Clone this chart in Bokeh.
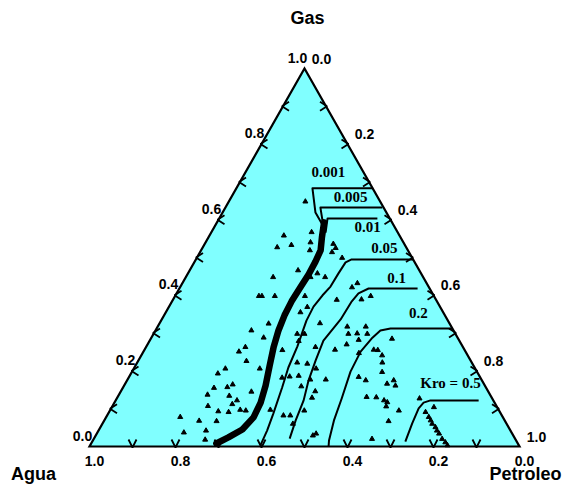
from bokeh.plotting import figure
from bokeh.models import Range1d
from bokeh.core.properties import value
from bokeh.embed import file_html
from bokeh.resources import INLINE

# ---- data (ternary saturations: So = oil, Sg = gas, Sw = 1 - So - Sg) ----
# thick boundary curve
thick_so = [0.249, 0.264, 0.278, 0.281, 0.282, 0.280, 0.278, 0.280, 0.286,
            0.297, 0.312, 0.329, 0.340, 0.343, 0.333, 0.311, 0.291]
thick_sg = [0.593, 0.553, 0.519, 0.489, 0.455, 0.421, 0.384, 0.347, 0.307,
            0.262, 0.214, 0.161, 0.116, 0.077, 0.045, 0.024, 0.008]

# Kro iso-lines
k0001_so = [0.318, 0.177, 0.216, 0.248]
k0001_sg = [0.683, 0.683, 0.619, 0.587]
k0005_so = [0.365, 0.221, 0.246]
k0005_sg = [0.632, 0.632, 0.593]
k001_so = [0.368, 0.252, 0.266]
k001_sg = [0.603, 0.603, 0.566]
k005_so = [0.505, 0.362, 0.352, 0.350, 0.349, 0.342, 0.336, 0.338, 0.351,
           0.358, 0.370, 0.384, 0.392, 0.396]
k005_sg = [0.495, 0.495, 0.487, 0.458, 0.423, 0.400, 0.370, 0.333, 0.265,
           0.209, 0.156, 0.087, 0.042, 0.003]
k01_so = [0.554, 0.440, 0.423, 0.418, 0.416, 0.404, 0.412, 0.422, 0.437, 0.445, 0.455]
k01_sg = [0.418, 0.418, 0.405, 0.384, 0.336, 0.280, 0.228, 0.175, 0.122, 0.069, 0.021]
k02_so = [0.688, 0.544, 0.523, 0.514, 0.505, 0.508, 0.523, 0.534, 0.549, 0.556]
k02_sg = [0.312, 0.312, 0.307, 0.288, 0.251, 0.198, 0.127, 0.069, 0.016, 0.000]
k05_so = [0.844, 0.732, 0.719, 0.715, 0.720, 0.728]
k05_sg = [0.122, 0.122, 0.116, 0.101, 0.061, 0.013]

contour_labels = ["0.001", "0.005", "0.01", "0.05", "0.1", "0.2", "Kro = 0.5"]
label_so = [0.193, 0.277, 0.356, 0.424, 0.491, 0.589, 0.756]
label_sg = [0.725, 0.661, 0.582, 0.524, 0.447, 0.352, 0.167]

# measured points
pts_so = [0.178, 0.173, 0.173, 0.203, 0.244, 0.233, 0.253, 0.299, 0.310, 0.307,
          0.338, 0.252, 0.203, 0.301, 0.324, 0.290, 0.195, 0.202, 0.232, 0.302,
          0.381, 0.407, 0.400, 0.455, 0.438, 0.313, 0.322, 0.373, 0.351, 0.347,
          0.254, 0.223, 0.261, 0.231, 0.222, 0.394, 0.321, 0.372, 0.397, 0.424,
          0.373, 0.357, 0.393, 0.425, 0.413, 0.452, 0.453, 0.452, 0.410, 0.426,
          0.443, 0.505, 0.510, 0.372, 0.334, 0.441, 0.453, 0.473, 0.484, 0.485,
          0.463, 0.443, 0.503, 0.461, 0.534, 0.555, 0.579, 0.647, 0.533, 0.543,
          0.497, 0.560, 0.582, 0.609, 0.620, 0.631, 0.602, 0.624, 0.634, 0.637,
          0.672, 0.662, 0.561, 0.704, 0.749, 0.736, 0.750, 0.759, 0.767, 0.779,
          0.787, 0.796, 0.810, 0.822, 0.831, 0.252, 0.213, 0.202, 0.293, 0.212,
          0.242, 0.251, 0.258, 0.282, 0.276, 0.206, 0.222, 0.253, 0.302, 0.316,
          0.304, 0.172, 0.221, 0.262, 0.201, 0.250, 0.260, 0.278, 0.570]
pts_sg = [0.648, 0.558, 0.527, 0.533, 0.540, 0.567, 0.519, 0.536, 0.525, 0.514,
          0.499, 0.466, 0.448, 0.458, 0.448, 0.448, 0.398, 0.398, 0.398, 0.398,
          0.388, 0.432, 0.421, 0.398, 0.389, 0.355, 0.369, 0.326, 0.298, 0.279,
          0.325, 0.307, 0.288, 0.263, 0.251, 0.263, 0.255, 0.222, 0.219, 0.206,
          0.185, 0.182, 0.187, 0.177, 0.159, 0.146, 0.129, 0.095, 0.082, 0.082,
          0.060, 0.029, 0.034, 0.097, 0.298, 0.317, 0.298, 0.299, 0.317, 0.282,
          0.270, 0.256, 0.247, 0.177, 0.184, 0.175, 0.131, 0.020, 0.256, 0.255,
          0.298, 0.241, 0.197, 0.166, 0.175, 0.161, 0.130, 0.122, 0.117, 0.106,
          0.095, 0.067, 0.285, 0.127, 0.104, 0.091, 0.078, 0.069, 0.060, 0.051,
          0.042, 0.034, 0.020, 0.011, 0.003, 0.226, 0.206, 0.193, 0.206, 0.155,
          0.157, 0.164, 0.134, 0.122, 0.112, 0.137, 0.107, 0.093, 0.097, 0.095,
          0.145, 0.078, 0.068, 0.067, 0.037, 0.042, 0.018, 0.091, 0.222]

edge_ticks = [0.1, 0.2, 0.3, 0.4, 0.5, 0.6, 0.7, 0.8, 0.9]
label_vals = [0.0, 0.2, 0.4, 0.6, 0.8, 1.0]
label_txt = ["0.0", "0.2", "0.4", "0.6", "0.8", "1.0"]


# ---- helpers ----
def tx(so, sg):
    return [o + g / 2.0 for o, g in zip(so, sg)]


def ty(so, sg):
    return list(sg)


PXX = 430.0   # screen px per unit x
PXY = 378.0   # screen px per unit y

p = figure(width=565, height=488, output_backend="svg", toolbar_location=None,
           x_range=Range1d(-89 / PXX, 476 / PXX), y_range=Range1d(-42 / PXY, 446 / PXY),
           min_border=0)
p.axis.visible = False
p.grid.visible = False
p.outline_line_color = None
p.background_fill_color = "white"

# triangle
p.patch([0.0, 1.0, 0.5], [0.0, 0.0, 1.0], fill_color="#80ffff",
        line_color="black", line_width=2.2, line_join="miter")

# edge ticks (chevrons)
kx, ky = 1 / PXX, 1 / PXY
xs, ys = [], []
for t in edge_ticks:
    x0, y0 = t / 2, t                    # left edge (Sg = t)
    xs.append([x0 + 6 * kx, x0 - 1 * kx, x0 + 6 * kx]); ys.append([y0 + 4.5 * ky, y0, y0 - 4.5 * ky])
    x0, y0 = 1 - t, 0.0                  # bottom edge (Sw = t)
    xs.append([x0 - 4 * kx, x0, x0 + 4 * kx]); ys.append([y0 + 7 * ky, y0 - 1 * ky, y0 + 7 * ky])
    x0, y0 = (1 + t) / 2, 1 - t          # right edge (So = t)
    xs.append([x0 - 6 * kx, x0 + 1 * kx, x0 - 6 * kx]); ys.append([y0 + 4.5 * ky, y0, y0 - 4.5 * ky])
p.multi_line(xs, ys, line_color="black", line_width=1.8)

# contours
for so, sg in [(k0001_so, k0001_sg), (k0005_so, k0005_sg), (k001_so, k001_sg),
               (k005_so, k005_sg), (k01_so, k01_sg), (k02_so, k02_sg), (k05_so, k05_sg)]:
    p.line(tx(so, sg), ty(so, sg), line_color="black", line_width=2, line_join="round")

p.line(tx(thick_so, thick_sg), ty(thick_so, thick_sg), line_color="black",
       line_width=6.5, line_join="round", line_cap="round")

# points
p.scatter(tx(pts_so, pts_sg), ty(pts_so, pts_sg), marker="triangle", size=5,
          color="black")

# contour labels
p.text(tx(label_so, label_sg), ty(label_so, label_sg), text=contour_labels,
       text_font=value("Liberation Serif"), text_font_style="bold",
       text_font_size="15px", text_align="center", text_baseline="middle",
       text_color="black")

# tick labels
sans = value("Liberation Sans")
# left edge: Sg
p.text([v / 2 - 7 * kx for v in label_vals], [v + 11 * ky for v in label_vals],
       text=label_txt, text_font=sans, text_font_style="bold", text_font_size="14px",
       text_align="center", text_baseline="middle", text_color="black")
# right edge: So
p.text([(1 + v) / 2 + 17 * kx for v in label_vals], [1 - v + 10 * ky for v in label_vals],
       text=label_txt, text_font=sans, text_font_style="bold", text_font_size="14px",
       text_align="center", text_baseline="middle", text_color="black")
# bottom edge: Sw
p.text([1 - v + 5 * kx for v in label_vals], [-14 * ky for v in label_vals],
       text=label_txt, text_font=sans, text_font_style="bold", text_font_size="14px",
       text_align="center", text_baseline="middle", text_color="black")

# vertex titles
p.text([0.5 + 3 * kx, 0.0 - 56 * kx, 1.0 + 6 * kx],
       [1.0 + 51 * ky, -27 * ky, -27 * ky],
       text=["Gas", "Agua", "Petroleo"], text_font=sans, text_font_style="bold",
       text_font_size="18px", text_align="center", text_baseline="middle",
       text_color="black")

open("out.html", "w").write(file_html(p, INLINE))
